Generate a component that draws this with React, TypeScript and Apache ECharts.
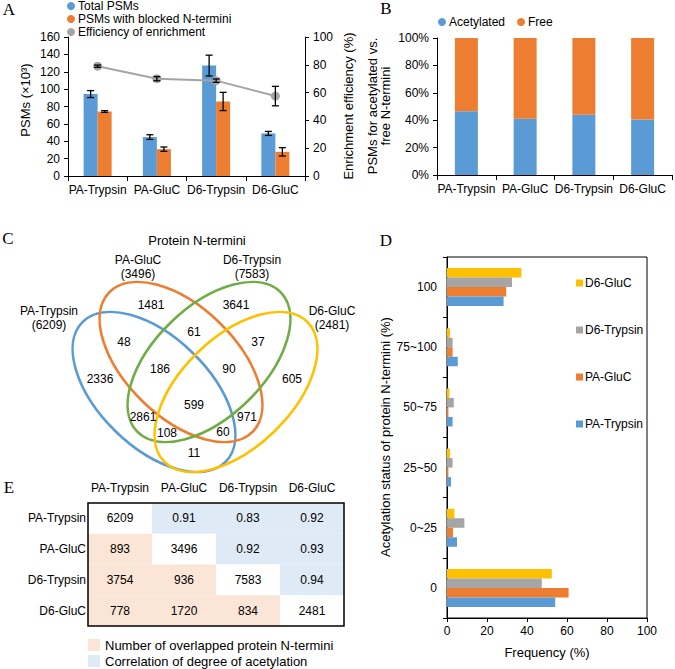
import React, { useEffect, useRef } from 'react';
import * as echarts from 'echarts';

// ---------- data ----------
const enzymeCategories = ['PA-Trypsin', 'PA-GluC', 'D6-Trypsin', 'D6-GluC'];
const totalPSMs = [94.3, 44.8, 127.1, 49.0];
const totalPSMsErr = [4, 2.7, 12, 2.3];
const blockedPSMs = [74.2, 30.9, 85.8, 27.8];
const blockedPSMsErr = [1, 2.5, 10.5, 4.8];
const efficiency = [79, 70, 68.6, 57.5];
const efficiencyErr = [0.8, 1.5, 1.2, 7];

const acetylatedPct = [46.5, 41, 44, 40.5];
const freePct = [53.5, 59, 56, 59.5];

const acetylCategories = ['0', '0~25', '25~50', '50~75', '75~100', '100'];
const freqPATrypsin = [54.1, 5.0, 2.0, 2.8, 5.4, 28.3];
const freqPAGluC = [60.8, 3.0, 0.7, 0.7, 2.8, 29.6];
const freqD6Trypsin = [47.4, 8.7, 2.8, 3.4, 2.8, 32.5];
const freqD6GluC = [52.4, 3.7, 1.5, 1.2, 1.5, 37.2];

const vennSetNames = ['PA-Trypsin', 'PA-GluC', 'D6-Trypsin', 'D6-GluC'];
const vennSetTotals = [6209, 3496, 7583, 2481];
const vennRegionCounts = [1481, 3641, 61, 48, 37, 186, 90, 2336, 605, 599, 2861, 971, 108, 60, 11];

const tableLabels = ['PA-Trypsin', 'PA-GluC', 'D6-Trypsin', 'D6-GluC'];
const tableCells = [
  ['6209', '0.91', '0.83', '0.92'],
  ['893', '3496', '0.92', '0.93'],
  ['3754', '936', '7583', '0.94'],
  ['778', '1720', '834', '2481'],
];

// ---------- styles / layout ----------
const FONT = "'Liberation Sans', Arial, Helvetica, sans-serif";
const SERIF = "'Liberation Serif', 'Times New Roman', serif";
const BLUE = '#5B9BD5';
const ORANGE = '#ED7D31';
const GRAY = '#A5A5A5';
const YELLOW = '#FFC000';
const GREEN = '#70AD47';
const PEACH = '#FBE5D6';
const LIGHTBLUE = '#DEEBF7';
const BAR_W_A = 14;

// Venn layout (pixel positions of ellipses and region labels)
const VENN_ROT = 0.77;
const VENN_ELLIPSES = [
  { cx: 154, cy: 392, rot: -VENN_ROT, color: BLUE },
  { cx: 181, cy: 362, rot: -VENN_ROT, color: ORANGE },
  { cx: 209, cy: 362, rot: VENN_ROT, color: GREEN },
  { cx: 236, cy: 392, rot: VENN_ROT, color: YELLOW },
];
const VENN_RX = 100;
const VENN_RY = 55;
const VENN_SET_LABEL_POS = [
  [49, 318],
  [138, 267],
  [252, 267],
  [332, 318],
];
const VENN_REGION_POS = [
  [151, 305], [236, 305], [194, 332], [124, 342], [258, 342], [160, 369], [229, 369],
  [100, 379], [292, 379], [194, 405], [143, 417], [247, 417], [167, 433], [223, 432], [194, 453],
];

const axisCommon = {
  axisLine: { show: true, lineStyle: { color: '#000', width: 1 } },
  axisTick: { show: true, length: 4, lineStyle: { color: '#000' } },
  axisLabel: { color: '#000', fontSize: 12, fontFamily: FONT },
  splitLine: { show: false },
};

const txt = (x: number, y: number, text: string, o: any = {}) => ({
  type: 'text',
  x,
  y,
  rotation: o.rotation || 0,
  z: 20,
  style: {
    text,
    fill: '#000',
    fontSize: o.size || 12,
    fontFamily: o.family || FONT,
    lineHeight: o.lineHeight || 14,
    textAlign: o.align || 'center',
    align: o.align || 'center',
    textVerticalAlign: 'middle',
    verticalAlign: 'middle',
  },
});

const errRender = (offsetSign: number) => (params: any, api: any) => {
  const idx = api.value(0);
  const v = api.value(1);
  const e = api.value(2);
  const hi = api.coord([idx, v + e]);
  const lo = api.coord([idx, v - e]);
  const x = hi[0] + (offsetSign * BAR_W_A) / 2;
  const cap = 3.5;
  const ls = { stroke: '#000', lineWidth: 1.3 };
  return {
    type: 'group',
    children: [
      { type: 'line', shape: { x1: x, y1: hi[1], x2: x, y2: lo[1] }, style: ls },
      { type: 'line', shape: { x1: x - cap, y1: hi[1], x2: x + cap, y2: hi[1] }, style: ls },
      { type: 'line', shape: { x1: x - cap, y1: lo[1], x2: x + cap, y2: lo[1] }, style: ls },
    ],
  };
};

function buildOption(): any {
  const graphic: any[] = [];
  // panel letters
  graphic.push(txt(9, 9, 'A', { size: 17, family: SERIF }));
  graphic.push(txt(386, 8, 'B', { size: 17, family: SERIF }));
  graphic.push(txt(8, 238, 'C', { size: 17, family: SERIF }));
  graphic.push(txt(386, 240, 'D', { size: 17, family: SERIF }));
  graphic.push(txt(9, 487, 'E', { size: 17, family: SERIF }));
  // axis names
  graphic.push(txt(25, 100, 'PSMs (×10³)', { size: 13, rotation: Math.PI / 2 }));
  graphic.push(txt(348, 106, 'Enrichment efficiency (%)', { size: 13, rotation: Math.PI / 2 }));
  graphic.push(txt(379, 106, 'PSMs for acetylated vs.\nfree N-termini', { size: 13, lineHeight: 13, rotation: Math.PI / 2 }));
  graphic.push(txt(385, 437, 'Acetylation status of protein N-termini (%)', { size: 13, rotation: Math.PI / 2 }));
  graphic.push(txt(547, 652, 'Frequency (%)', { size: 13 }));
  // Venn
  graphic.push(txt(197, 240, 'Protein N-termini', { size: 13 }));
  VENN_ELLIPSES.forEach((e) => {
    graphic.push({
      type: 'ellipse',
      x: e.cx,
      y: e.cy,
      rotation: e.rot,
      z: 5,
      shape: { cx: 0, cy: 0, rx: VENN_RX, ry: VENN_RY },
      style: { fill: 'none', stroke: e.color, lineWidth: 2.6 },
    });
  });
  vennSetNames.forEach((n, i) => {
    graphic.push(txt(VENN_SET_LABEL_POS[i][0], VENN_SET_LABEL_POS[i][1], `${n}\n(${vennSetTotals[i]})`, { size: 12, lineHeight: 14 }));
  });
  vennRegionCounts.forEach((c, i) => {
    graphic.push(txt(VENN_REGION_POS[i][0], VENN_REGION_POS[i][1], String(c), { size: 12 }));
  });
  // table border + legend
  graphic.push({
    type: 'rect',
    z: 30,
    shape: { x: 88, y: 503, width: 256, height: 123 },
    style: { fill: 'none', stroke: '#000', lineWidth: 1.5 },
  });
  graphic.push({ type: 'rect', z: 10, shape: { x: 88, y: 639, width: 12, height: 12 }, style: { fill: PEACH } });
  graphic.push({ type: 'rect', z: 10, shape: { x: 88, y: 655, width: 12, height: 12 }, style: { fill: LIGHTBLUE } });
  graphic.push(txt(105, 645, 'Number of overlapped protein N-termini', { size: 13, align: 'left' }));
  graphic.push(txt(105, 661, 'Correlation of degree of acetylation', { size: 13, align: 'left' }));

  const tableData: number[][] = [];
  for (let r = 0; r < 4; r++) for (let c = 0; c < 4; c++) tableData.push([c, r]);

  return {
    animation: false,
    backgroundColor: '#fff',
    textStyle: { fontFamily: FONT, color: '#000' },
    grid: [
      { left: 68, top: 37, width: 237, height: 139, containLabel: false },
      { left: 437, top: 38, width: 235, height: 137, containLabel: false },
      { left: 447, top: 257, width: 200, height: 361, show: true, borderColor: '#000', borderWidth: 1, containLabel: false },
      { left: 88, top: 503, width: 256, height: 123, containLabel: false },
    ],
    legend: [
      {
        data: ['Total PSMs', 'PSMs with blocked N-termini', 'Efficiency of enrichment'],
        orient: 'vertical',
        left: 67,
        top: 0,
        padding: 0,
        itemGap: 1,
        itemWidth: 8,
        itemHeight: 8,
        icon: 'circle',
        textStyle: { fontSize: 12, color: '#000', fontFamily: FONT, padding: [0, 0, 0, -2] },
      },
      {
        data: ['Acetylated', 'Free'],
        orient: 'horizontal',
        left: 438,
        top: 16,
        padding: 0,
        itemGap: 12,
        itemWidth: 8,
        itemHeight: 8,
        icon: 'circle',
        textStyle: { fontSize: 12, color: '#000', fontFamily: FONT, padding: [0, 0, 0, -2] },
      },
      {
        data: ['D6-GluC', 'D6-Trypsin', 'PA-GluC', 'PA-Trypsin'],
        orient: 'vertical',
        left: 576,
        top: 277,
        padding: 0,
        itemGap: 35,
        itemWidth: 7,
        itemHeight: 7,
        icon: 'rect',
        textStyle: { fontSize: 12, color: '#000', fontFamily: FONT, padding: [0, 0, 0, -3] },
      },
    ],
    xAxis: [
      { ...axisCommon, gridIndex: 0, type: 'category', data: enzymeCategories, axisTick: { show: true, length: 5, lineStyle: { color: '#000' } }, axisLabel: { ...axisCommon.axisLabel, margin: 8, interval: 0 } },
      { ...axisCommon, gridIndex: 1, type: 'category', data: enzymeCategories, axisTick: { show: true, length: 5, lineStyle: { color: '#000' } }, axisLabel: { ...axisCommon.axisLabel, margin: 8, interval: 0 } },
      { ...axisCommon, gridIndex: 2, type: 'value', min: 0, max: 100, interval: 20, axisLabel: { ...axisCommon.axisLabel, margin: 7 } },
      {
        gridIndex: 3,
        type: 'category',
        position: 'top',
        data: tableLabels,
        axisLine: { show: false },
        axisTick: { show: false },
        splitLine: { show: false },
        axisLabel: { color: '#000', fontSize: 12, fontFamily: FONT, margin: 9, interval: 0 },
      },
    ],
    yAxis: [
      { ...axisCommon, gridIndex: 0, type: 'value', min: 0, max: 160, interval: 20, axisLabel: { ...axisCommon.axisLabel, margin: 8 } },
      { ...axisCommon, gridIndex: 0, type: 'value', position: 'right', min: 0, max: 100, interval: 20, axisLabel: { ...axisCommon.axisLabel, margin: 8 } },
      { ...axisCommon, gridIndex: 1, type: 'value', min: 0, max: 100, interval: 20, axisLabel: { ...axisCommon.axisLabel, margin: 8, formatter: '{value}%' } },
      { ...axisCommon, gridIndex: 2, type: 'category', data: acetylCategories, axisLabel: { ...axisCommon.axisLabel, margin: 10, interval: 0 } },
      {
        gridIndex: 3,
        type: 'category',
        inverse: true,
        data: tableLabels,
        axisLine: { show: false },
        axisTick: { show: false },
        splitLine: { show: false },
        axisLabel: { color: '#000', fontSize: 12, fontFamily: FONT, margin: 2, interval: 0 },
      },
    ],
    series: [
      // Panel A
      { name: 'Total PSMs', type: 'bar', xAxisIndex: 0, yAxisIndex: 0, data: totalPSMs, barWidth: BAR_W_A, barGap: '0%', itemStyle: { color: BLUE } },
      { name: 'PSMs with blocked N-termini', type: 'bar', xAxisIndex: 0, yAxisIndex: 0, data: blockedPSMs, barWidth: BAR_W_A, barGap: '0%', itemStyle: { color: ORANGE } },
      {
        type: 'custom', xAxisIndex: 0, yAxisIndex: 0, z: 4,
        data: totalPSMs.map((v, i) => [i, v, totalPSMsErr[i]]),
        encode: { x: 0, y: 1 },
        renderItem: errRender(-1),
      },
      {
        type: 'custom', xAxisIndex: 0, yAxisIndex: 0, z: 4,
        data: blockedPSMs.map((v, i) => [i, v, blockedPSMsErr[i]]),
        encode: { x: 0, y: 1 },
        renderItem: errRender(1),
      },
      {
        name: 'Efficiency of enrichment', type: 'line', xAxisIndex: 0, yAxisIndex: 1, data: efficiency, z: 5,
        symbol: 'circle', symbolSize: 9, itemStyle: { color: GRAY }, lineStyle: { color: GRAY, width: 2 },
      },
      {
        type: 'custom', xAxisIndex: 0, yAxisIndex: 1, z: 6,
        data: efficiency.map((v, i) => [i, v, efficiencyErr[i]]),
        encode: { x: 0, y: 1 },
        renderItem: errRender(0),
      },
      // Panel B
      { name: 'Acetylated', type: 'bar', stack: 'b', xAxisIndex: 1, yAxisIndex: 2, data: acetylatedPct, barWidth: 23, itemStyle: { color: BLUE } },
      { name: 'Free', type: 'bar', stack: 'b', xAxisIndex: 1, yAxisIndex: 2, data: freePct, barWidth: 23, itemStyle: { color: ORANGE } },
      // Panel D
      { name: 'D6-GluC', type: 'bar', xAxisIndex: 2, yAxisIndex: 3, data: freqD6GluC, barWidth: 9.5, barGap: '0%', itemStyle: { color: YELLOW } },
      { name: 'D6-Trypsin', type: 'bar', xAxisIndex: 2, yAxisIndex: 3, data: freqD6Trypsin, barWidth: 9.5, barGap: '0%', itemStyle: { color: GRAY } },
      { name: 'PA-GluC', type: 'bar', xAxisIndex: 2, yAxisIndex: 3, data: freqPAGluC, barWidth: 9.5, barGap: '0%', itemStyle: { color: ORANGE } },
      { name: 'PA-Trypsin', type: 'bar', xAxisIndex: 2, yAxisIndex: 3, data: freqPATrypsin, barWidth: 9.5, barGap: '0%', itemStyle: { color: BLUE } },
      // Panel E table
      {
        type: 'custom', xAxisIndex: 3, yAxisIndex: 4, z: 3,
        data: tableData,
        encode: { x: 0, y: 1 },
        renderItem: (params: any, api: any) => {
          const c = api.value(0);
          const r = api.value(1);
          const p = api.coord([c, r]);
          const s = api.size([1, 1]);
          const fill = r === c ? '#fff' : r > c ? PEACH : LIGHTBLUE;
          return {
            type: 'group',
            children: [
              { type: 'rect', shape: { x: p[0] - s[0] / 2, y: p[1] - s[1] / 2, width: s[0], height: s[1] }, style: { fill } },
              {
                type: 'text', x: p[0], y: p[1],
                style: {
                  text: tableCells[r][c], fill: '#000', fontSize: 12, fontFamily: FONT,
                  textAlign: 'center', align: 'center', textVerticalAlign: 'middle', verticalAlign: 'middle',
                },
              },
            ],
          };
        },
      },
    ],
    graphic,
  };
}

export default function App() {
  const ref = useRef<HTMLDivElement>(null);
  useEffect(() => {
    if (!ref.current) return;
    const chart = echarts.init(ref.current, undefined, { renderer: 'svg' });
    chart.setOption(buildOption());
    return () => chart.dispose();
  }, []);
  return (
    <div
      ref={ref}
      style={{ position: 'absolute', left: 0, top: 0, width: 675, height: 669, background: '#fff' }}
    />
  );
}
